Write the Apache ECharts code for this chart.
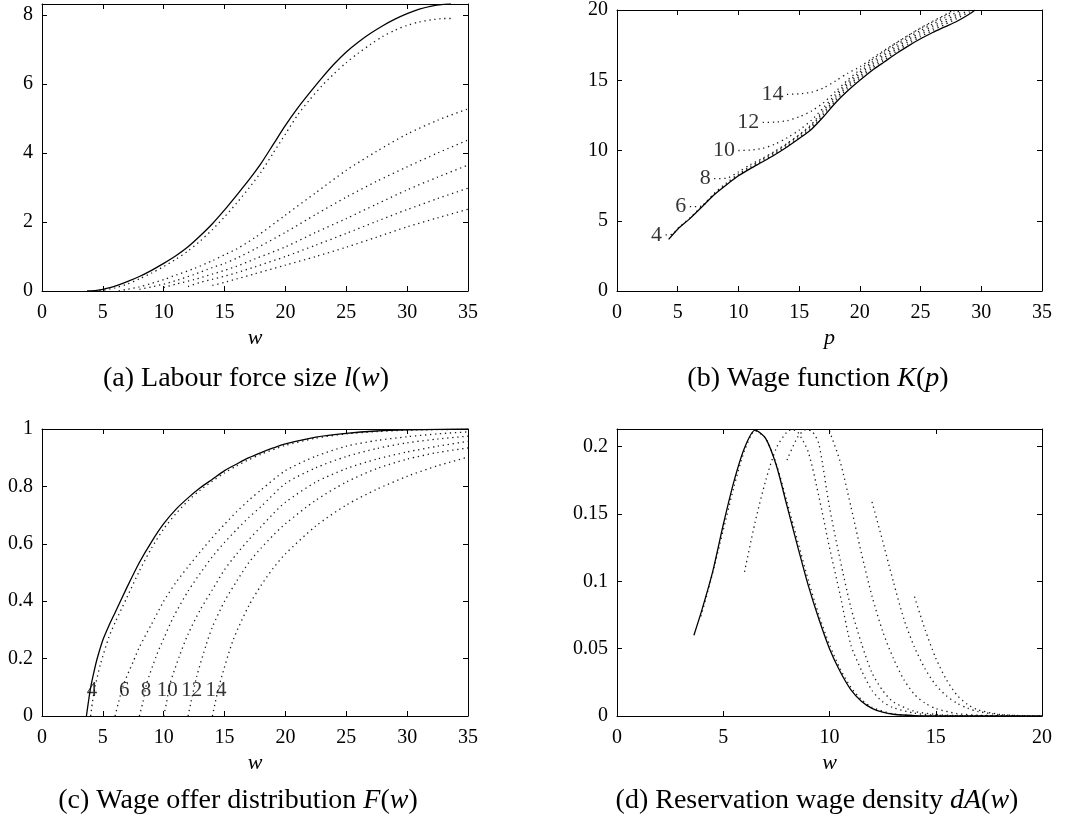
<!DOCTYPE html>
<html>
<head>
<meta charset="utf-8">
<script src="https://cdn.jsdelivr.net/npm/echarts@6/dist/echarts.min.js"></script>
<style>
  html, body { margin: 0; padding: 0; background: #fff; }
  #chart { width: 1075px; height: 826px; }
</style>
</head>
<body>
<div id="chart"></div>
<script>
// ---------- tick values and their printed labels ----------
const wageTicks35 = [0, 5, 10, 15, 20, 25, 30, 35];
const wageTickLabels35 = ['0', '5', '10', '15', '20', '25', '30', '35'];
const wageTicks20 = [0, 5, 10, 15, 20];
const wageTickLabels20 = ['0', '5', '10', '15', '20'];
const laborTicks = [0, 2, 4, 6, 8];
const laborTickLabels = ['0', '2', '4', '6', '8'];
const kTicks = [0, 5, 10, 15, 20];
const kTickLabels = ['0', '5', '10', '15', '20'];
const cdfTicks = [0, 0.2, 0.4, 0.6, 0.8, 1];
const cdfTickLabels = ['0', '0.2', '0.4', '0.6', '0.8', '1'];
const densTicks = [0, 0.05, 0.1, 0.15, 0.2];
const densTickLabels = ['0', '0.05', '0.1', '0.15', '0.2'];

// minimum-wage levels of the dotted curves
const minWages = [4, 6, 8, 10, 12, 14];

// ---------- (a) labour force size l(w) ----------
const laborBase = [[3.7,0],[4.5,0.02],[5,0.05],[6,0.14],[7,0.27],[8,0.42],[9,0.6],[10,0.8],[11,1.02],[12,1.28],[13,1.6],[14,1.95],[15,2.35],[16,2.78],[17,3.22],[18,3.7],[19,4.25],[20,4.8],[21,5.3],[22,5.75],[23,6.18],[24,6.58],[25,6.93],[26,7.22],[27,7.47],[28,7.69],[29,7.88],[30,8.04],[31,8.17],[32,8.26],[33,8.31],[33.6,8.32]];
const laborMin4 = [[4.3,0],[5,0.02],[6,0.09],[7,0.2],[8,0.35],[9,0.52],[10,0.71],[11,0.92],[12,1.16],[13,1.45],[14,1.78],[15,2.15],[16,2.55],[17,2.98],[18,3.45],[19,4.0],[20,4.55],[21,5.1],[22,5.55],[23,5.95],[24,6.3],[25,6.62],[26,6.9],[27,7.15],[28,7.38],[29,7.56],[30,7.7],[31,7.8],[32,7.86],[33,7.9],[33.7,7.9]];
const laborMin6 = [[6.3,0],[7,0.05],[8,0.12],[9,0.22],[10,0.33],[11,0.46],[12.5,0.65],[14,0.88],[15,1.05],[16,1.22],[17.5,1.55],[20,2.2],[22.5,2.85],[25,3.5],[27.5,4.05],[30,4.55],[32.5,4.95],[35,5.28]];
const laborMin8 = [[8,0.05],[9,0.12],[10,0.2],[11,0.3],[12.5,0.48],[14,0.68],[15,0.8],[16,0.95],[17.5,1.22],[20,1.7],[22.5,2.22],[25,2.72],[27.5,3.18],[30,3.6],[32.5,4.0],[35,4.38]];
const laborMin10 = [[10,0.1],[11,0.2],[12.5,0.33],[14,0.49],[15,0.6],[16,0.72],[17.5,0.93],[20,1.28],[22.5,1.7],[25,2.1],[27.5,2.52],[30,2.93],[32.5,3.3],[35,3.65]];
const laborMin12 = [[12,0.13],[13,0.25],[14,0.34],[15,0.43],[16,0.53],[17.5,0.7],[20,1.0],[22.5,1.33],[25,1.67],[27.5,2.02],[30,2.36],[32.5,2.68],[35,2.98]];
const laborMin14 = [[14,0.16],[15,0.25],[16,0.35],[17.5,0.5],[20,0.75],[22.5,1.0],[25,1.27],[27.5,1.56],[30,1.86],[32.5,2.12],[35,2.37]];

// ---------- (b) wage function K(p) ----------
const wageBase = [[4.25,3.67],[5,4.4],[6,5.15],[7,5.99],[8,6.85],[9,7.55],[10,8.2],[11,8.72],[12,9.2],[13,9.7],[14,10.25],[15,10.85],[16,11.5],[17,12.4],[18,13.4],[19,14.25],[20,15.0],[21,15.7],[22,16.3],[23,16.9],[24,17.45],[25,17.95],[26,18.4],[27,18.8],[28,19.2],[29,19.7],[29.5,20]];
const wageMin4 = [[4,4],[4.6,4.05],[5,4.45],[6,5.2],[7,6.05],[8,6.9],[9,7.6],[10,8.25],[11,8.78],[12,9.27],[13,9.78],[14,10.33],[15,10.95],[16,11.62],[17,12.55],[18,13.55],[19,14.42],[20,15.15],[21,15.85],[22,16.45],[23,17.05],[24,17.6],[25,18.1],[26,18.55],[27,18.97],[28,19.4],[29,19.85],[29.3,20]];
const wageMin6 = [[6,6],[7,6.05],[8,6.95],[9,7.68],[10,8.33],[11,8.88],[12,9.38],[13,9.9],[14,10.46],[15,11.08],[16,11.76],[17,12.7],[18,13.7],[19,14.57],[20,15.3],[21,16.0],[22,16.62],[23,17.2],[24,17.75],[25,18.25],[26,18.7],[27,19.12],[28,19.55],[29,19.98],[29.05,20]];
const wageMin8 = [[8,8],[9,8.02],[10,8.48],[11,9.0],[12,9.45],[13,9.95],[14,10.5],[15,11.12],[16,11.85],[17,12.85],[18,13.85],[19,14.72],[20,15.45],[21,16.15],[22,16.78],[23,17.35],[24,17.9],[25,18.4],[26,18.85],[27,19.28],[28,19.7],[28.7,20]];
const wageMin10 = [[10,10],[11,10.03],[12,10.15],[13,10.45],[14,10.9],[15,11.45],[16,12.15],[17,13.05],[18,14.0],[19,14.87],[20,15.6],[21,16.3],[22,16.92],[23,17.5],[24,18.05],[25,18.55],[26,19.0],[27,19.45],[28,19.85],[28.4,20]];
const wageMin12 = [[12,12],[13,12.02],[14,12.12],[15,12.4],[16,12.8],[17,13.4],[18,14.2],[19,15.02],[20,15.75],[21,16.45],[22,17.07],[23,17.65],[24,18.2],[25,18.7],[26,19.15],[27,19.6],[27.9,20]];
const wageMin14 = [[14,14],[15,14.03],[16,14.15],[17,14.45],[18,14.95],[19,15.5],[20,15.95],[21,16.55],[22,17.12],[23,17.67],[24,18.2],[25,18.72],[26,19.2],[27,19.65],[27.7,20]];

// ---------- (c) wage offer distribution F(w) ----------
const offerBase = [[3.65,0],[3.85,0.06],[4,0.1],[4.25,0.15],[4.5,0.195],[5,0.265],[5.5,0.315],[6,0.36],[7,0.45],[8,0.535],[9,0.607],[10,0.67],[11,0.72],[12,0.76],[13,0.795],[14,0.825],[15,0.855],[16,0.878],[17,0.9],[18,0.918],[19,0.934],[20,0.948],[22.5,0.972],[25,0.985],[27.5,0.993],[30,0.997],[32.5,0.999],[35,1.0]];
const offerMin4 = [[4,0],[4.15,0.05],[4.35,0.1],[4.8,0.18],[5.5,0.275],[6,0.325],[7,0.415],[8,0.505],[9,0.585],[10,0.652],[11,0.705],[12,0.75],[13,0.787],[14,0.818],[15,0.847],[16,0.872],[17,0.893],[18,0.912],[20,0.943],[22.5,0.968],[25,0.983],[27.5,0.991],[30,0.996],[35,0.999]];
const offerMin6 = [[6,0],[6.3,0.05],[6.7,0.11],[7.5,0.19],[8,0.24],[9,0.32],[10,0.4],[11,0.465],[12,0.52],[13,0.572],[14,0.622],[15,0.668],[16,0.712],[17,0.752],[18,0.788],[20,0.855],[22.5,0.905],[25,0.94],[27.5,0.96],[30,0.973],[32.5,0.983],[35,0.99]];
const offerMin8 = [[8,0],[8.3,0.05],[8.6,0.113],[9.4,0.21],[10,0.27],[10.8,0.345],[12,0.435],[13,0.497],[14,0.555],[15,0.605],[16,0.65],[17,0.692],[18,0.73],[20,0.81],[22.5,0.865],[25,0.904],[27.5,0.932],[30,0.952],[32.5,0.965],[35,0.975]];
const offerMin10 = [[10,0],[10.25,0.05],[10.5,0.11],[11.3,0.21],[12,0.285],[13,0.37],[14,0.44],[15,0.51],[16,0.565],[17,0.615],[18,0.66],[19,0.705],[20,0.745],[22.5,0.815],[25,0.862],[27.5,0.895],[30,0.92],[32.5,0.94],[35,0.957]];
const offerMin12 = [[12,0],[12.25,0.05],[12.7,0.136],[13.5,0.25],[14,0.31],[15,0.4],[16,0.47],[17,0.535],[18,0.585],[19,0.63],[20,0.67],[22.5,0.752],[25,0.815],[27.5,0.862],[30,0.895],[32.5,0.918],[35,0.934]];
const offerMin14 = [[14,0],[14.25,0.05],[14.6,0.113],[15.7,0.264],[17,0.385],[18,0.455],[19,0.515],[20,0.565],[22.5,0.662],[25,0.735],[27.5,0.79],[30,0.835],[32.5,0.872],[35,0.902]];

// ---------- (d) reservation wage density dA(w) ----------
const densBase = [[3.62,0.06],[4,0.079],[4.5,0.107],[5,0.142],[5.5,0.174],[6,0.199],[6.5,0.2122],[7,0.206],[7.5,0.186],[8,0.156],[8.5,0.126],[9,0.097],[9.5,0.072],[10,0.05],[10.5,0.033],[11,0.0196],[11.5,0.011],[12,0.0057],[12.5,0.0028],[13,0.0013],[14,0.0003],[15,0.0001],[16,0],[20,0]];
const densMin4 = [[3.95,0.074],[4.4,0.1],[5,0.138],[5.5,0.17],[6,0.197],[6.5,0.2118],[7,0.206],[7.5,0.187],[8,0.159],[8.5,0.13],[9,0.101],[9.5,0.075],[10,0.053],[10.5,0.035],[11,0.0215],[11.5,0.0122],[12,0.0065],[13,0.0015],[14,0.0003],[15,0]];
const densMin6 = [[6,0.107],[6.5,0.144],[7,0.175],[7.5,0.199],[8,0.211],[8.25,0.2127],[8.5,0.211],[9,0.196],[9.5,0.163],[10,0.125],[10.5,0.09],[11,0.053],[11.5,0.034],[12,0.019],[12.5,0.0105],[13,0.0062],[14,0.0021],[15,0.0006],[16,0.0002],[18,0]];
const densMin8 = [[8,0.19],[8.5,0.207],[8.9,0.2127],[9.2,0.211],[9.5,0.202],[10,0.155],[10.5,0.116],[11,0.081],[11.5,0.054],[12,0.032],[12.5,0.019],[13,0.0105],[14,0.0035],[15,0.0012],[16,0.0004],[18,0]];
const densMin10 = [[10,0.2115],[10.5,0.189],[11,0.156],[11.5,0.121],[12,0.089],[12.5,0.063],[13,0.043],[13.5,0.027],[14,0.016],[14.5,0.0095],[15,0.0055],[16,0.0018],[17,0.0006],[18,0.0002],[19,0]];
const densMin12 = [[12,0.159],[12.5,0.13],[13,0.1],[13.5,0.072],[14,0.051],[14.5,0.035],[15,0.023],[15.5,0.015],[16,0.0095],[16.5,0.0058],[17,0.0033],[18,0.001],[19,0.0003],[20,0]];
const densMin14 = [[14,0.0886],[14.5,0.064],[15,0.043],[15.5,0.027],[16,0.0155],[16.5,0.0085],[17,0.0045],[18,0.0012],[19,0.0003],[20,0]];

// ---------- drawing ----------
const SERIF = 'Liberation Serif';
const INK = '#000';

const grids = [
  { left: 42,  top: 4,   width: 426, height: 287 },
  { left: 617, top: 4,   width: 425, height: 287 },
  { left: 42,  top: 429, width: 426, height: 287 },
  { left: 617, top: 429, width: 425, height: 287 }
];

function tickFormatter(ticks, labels) {
  return function (v) {
    for (let i = 0; i < ticks.length; i++) {
      if (Math.abs(ticks[i] - v) < 1e-7) return labels[i];
    }
    return '';
  };
}

function axisPair(kind, gridIndex, min, max, interval, ticks, labels, name) {
  const common = {
    type: 'value', gridIndex: gridIndex, min: min, max: max, interval: interval,
    splitLine: { show: false },
    axisLine: { show: true, onZero: false, lineStyle: { color: INK, width: 1 } },
    axisTick: { show: true, inside: true, length: 5, lineStyle: { color: INK, width: 1 } }
  };
  const main = Object.assign({}, common, {
    position: kind === 'x' ? 'bottom' : 'left',
    axisLabel: {
      color: INK, fontFamily: SERIF, fontSize: 20,
      margin: kind === 'x' ? 12 : 9,
      formatter: tickFormatter(ticks, labels)
    }
  });
  if (name) {
    Object.assign(main, {
      name: name, nameLocation: 'middle', nameGap: 36,
      nameTextStyle: { color: INK, fontFamily: SERIF, fontSize: 22, fontStyle: 'italic' }
    });
  }
  const mirror = Object.assign({}, common, {
    position: kind === 'x' ? 'top' : 'right',
    axisLabel: { show: false }
  });
  return [main, mirror];
}

const xAxes = [].concat(
  axisPair('x', 0, 0, 35, 5, wageTicks35, wageTickLabels35, 'w'),
  axisPair('x', 1, 0, 35, 5, wageTicks35, wageTickLabels35, 'p'),
  axisPair('x', 2, 0, 35, 5, wageTicks35, wageTickLabels35, 'w'),
  axisPair('x', 3, 0, 20, 5, wageTicks20, wageTickLabels20, 'w')
);
const yAxes = [].concat(
  axisPair('y', 0, 0, 8.32, 2, laborTicks, laborTickLabels),
  axisPair('y', 1, 0, 20, 5, kTicks, kTickLabels),
  axisPair('y', 2, 0, 1, 0.2, cdfTicks, cdfTickLabels),
  axisPair('y', 3, 0, 0.2131, 0.05, densTicks, densTickLabels)
);

function solid(panel, data) {
  return {
    type: 'line', xAxisIndex: panel * 2, yAxisIndex: panel * 2, data: data,
    showSymbol: false, symbol: 'none', smooth: 0.25,
    lineStyle: { color: INK, width: 1.3, type: 'solid' }, z: 3, silent: true
  };
}
function dotted(panel, data) {
  return {
    type: 'line', xAxisIndex: panel * 2, yAxisIndex: panel * 2, data: data,
    showSymbol: false, symbol: 'none', smooth: 0.25,
    lineStyle: { color: '#1a1a1a', width: 1.3, type: [1.3, 3.7], cap: 'butt' }, z: 2, silent: true
  };
}

// curve tags in panel (b): written just left of where each dotted curve begins
const wageTagSeries = {
  type: 'scatter', xAxisIndex: 2, yAxisIndex: 2, symbolSize: 1, silent: true,
  itemStyle: { color: 'rgba(0,0,0,0)' },
  data: minWages.map(function (m) { return { value: [m, m], name: String(m) }; }),
  label: {
    show: true, position: 'left', distance: 3, offset: [0, 0],
    formatter: '{b}', color: INK, fontFamily: SERIF, fontSize: 22
  },
  z: 5
};

// curve tags in panel (c): a row of numbers just above the axis
const offerTagShift = [0.1, 0.75, 0.55, 0.3, 0.3, 0.3];
const offerTagSeries = {
  type: 'scatter', xAxisIndex: 4, yAxisIndex: 4, symbolSize: 1, silent: true,
  itemStyle: { color: 'rgba(0,0,0,0)' },
  data: minWages.map(function (m, i) { return { value: [m + offerTagShift[i], 0.09], name: String(m) }; }),
  label: {
    show: true, position: 'inside',
    formatter: '{b}', color: INK, fontFamily: SERIF, fontSize: 21
  },
  z: 5
};

const series = [
  solid(0, laborBase),
  dotted(0, laborMin4), dotted(0, laborMin6), dotted(0, laborMin8),
  dotted(0, laborMin10), dotted(0, laborMin12), dotted(0, laborMin14),
  solid(1, wageBase),
  dotted(1, wageMin4), dotted(1, wageMin6), dotted(1, wageMin8),
  dotted(1, wageMin10), dotted(1, wageMin12), dotted(1, wageMin14),
  wageTagSeries,
  solid(2, offerBase),
  dotted(2, offerMin4), dotted(2, offerMin6), dotted(2, offerMin8),
  dotted(2, offerMin10), dotted(2, offerMin12), dotted(2, offerMin14),
  offerTagSeries,
  solid(3, densBase),
  dotted(3, densMin4), dotted(3, densMin6), dotted(3, densMin8),
  dotted(3, densMin10), dotted(3, densMin12), dotted(3, densMin14)
];

function caption(x, y, text) {
  return {
    type: 'text', x: x, y: y, silent: true,
    style: {
      text: text, align: 'center', verticalAlign: 'middle',
      fill: INK, fontFamily: SERIF, fontSize: 28,
      rich: {
        i: { fontFamily: SERIF, fontSize: 28, fontStyle: 'italic', fill: INK }
      }
    }
  };
}

const option = {
  backgroundColor: '#fff',
  animation: false,
  grid: grids,
  xAxis: xAxes,
  yAxis: yAxes,
  series: series,
  graphic: [
    caption(246, 379, '(a) Labour force size {i|l}({i|w})'),
    caption(818, 379, '(b) Wage function {i|K}({i|p})'),
    caption(238, 801, '(c) Wage offer distribution {i|F}({i|w})'),
    caption(817, 801, '(d) Reservation wage density {i|dA}({i|w})')
  ]
};

const chart = echarts.init(document.getElementById('chart'), null, { renderer: 'canvas' });
chart.setOption(option);
</script>
</body>
</html>
